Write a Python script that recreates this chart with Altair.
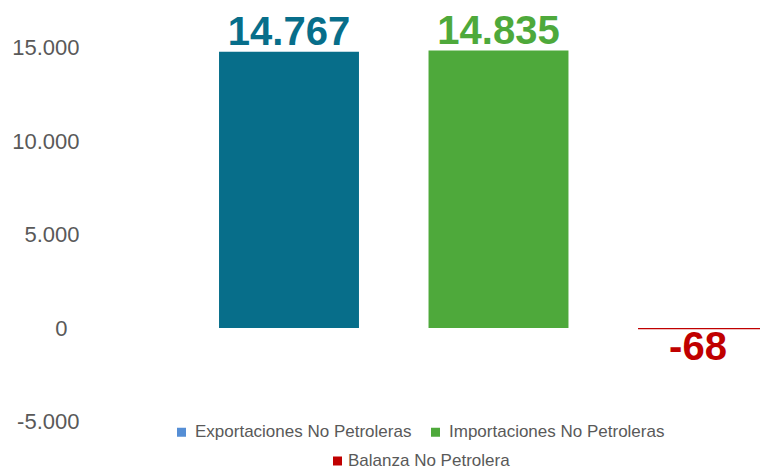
import altair as alt
import pandas as pd

# ---- data ----
categories = ["Exportaciones No Petroleras", "Importaciones No Petroleras", "Balanza No Petrolera"]
values = [14767, 14835, -68]
value_labels = ["14.767", "14.835", "-68"]
y_ticks = [-5000, 0, 5000, 10000, 15000]

# ---- styles ----
bar_colors = ["#076E8A", "#4EA93B", "#C00000"]
legend_colors = ["#558ED5", "#4EA93B", "#C00000"]
FONT = "Liberation Sans"
GREY = "#595959"

df = pd.DataFrame({"cat": categories, "value": values, "label": value_labels})

x = alt.X(
    "cat:N", sort=categories, axis=None,
    scale=alt.Scale(range=[94.25, 722.75], paddingInner=0.332, paddingOuter=0.166),
)
y = alt.Y(
    "value:Q",
    scale=alt.Scale(domain=[-5000, 15000], nice=False),
    axis=alt.Axis(
        values=y_ticks, title=None, domain=False, ticks=False, tickSize=0, grid=False,
        labelFont=FONT, labelFontSize=22, labelColor=GREY,
        labelPadding={"condition": {"test": "datum.value === 0", "value": 23}, "value": 11},
        labelExpr="(datum.value < 0 ? '-' : '') + replace(format(abs(datum.value), ','), ',', '.')",
    ),
)
bar_color = alt.Color("cat:N", scale=alt.Scale(domain=categories, range=bar_colors), legend=None)

bars = alt.Chart(df).mark_bar().encode(x=x, y=y, color=bar_color)

pos_labels = alt.Chart(df).transform_filter("datum.value >= 0").mark_text(
    font=FONT, fontSize=40, fontWeight="bold", baseline="alphabetic", dy=-7
).encode(x=x, y=y, text="label:N", color=bar_color)

neg_labels = alt.Chart(df).transform_filter("datum.value < 0").mark_text(
    font=FONT, fontSize=40, fontWeight="bold", baseline="alphabetic", dy=31, dx=-10
).encode(x=x, y=y, text="label:N", color=bar_color)


def legend_layer(cats, cols, lx, ly, offset):
    return alt.Chart(df).transform_filter(
        alt.FieldOneOfPredicate(field="cat", oneOf=cats)
    ).mark_text(text="").encode(
        color=alt.Color(
            "cat:N", sort=cats,
            scale=alt.Scale(domain=cats, range=cols),
            legend=alt.Legend(
                title=None, orient="none", direction="horizontal",
                legendX=lx, legendY=ly, symbolType="square", symbolSize=81,
                labelFont=FONT, labelFontSize=17, labelColor=GREY, labelLimit=0,
                labelOffset=offset, columnPadding=15, padding=0,
            ),
        )
    )


legA = legend_layer(categories[:2], legend_colors[:2], 83, 376, 5)
legB = legend_layer(categories[2:], legend_colors[2:], 239, 405, 2)

chart = alt.layer(bars, pos_labels, neg_labels, legA, legB).resolve_scale(
    color="independent"
).properties(
    width=670, height=374,
    autosize=alt.AutoSizeParams(type="none"),
    padding={"left": 82, "top": 39.5, "right": 0, "bottom": 46.5},
).configure_view(stroke=None)

chart.save("out.html", embed_options={"renderer": "svg", "actions": False})
